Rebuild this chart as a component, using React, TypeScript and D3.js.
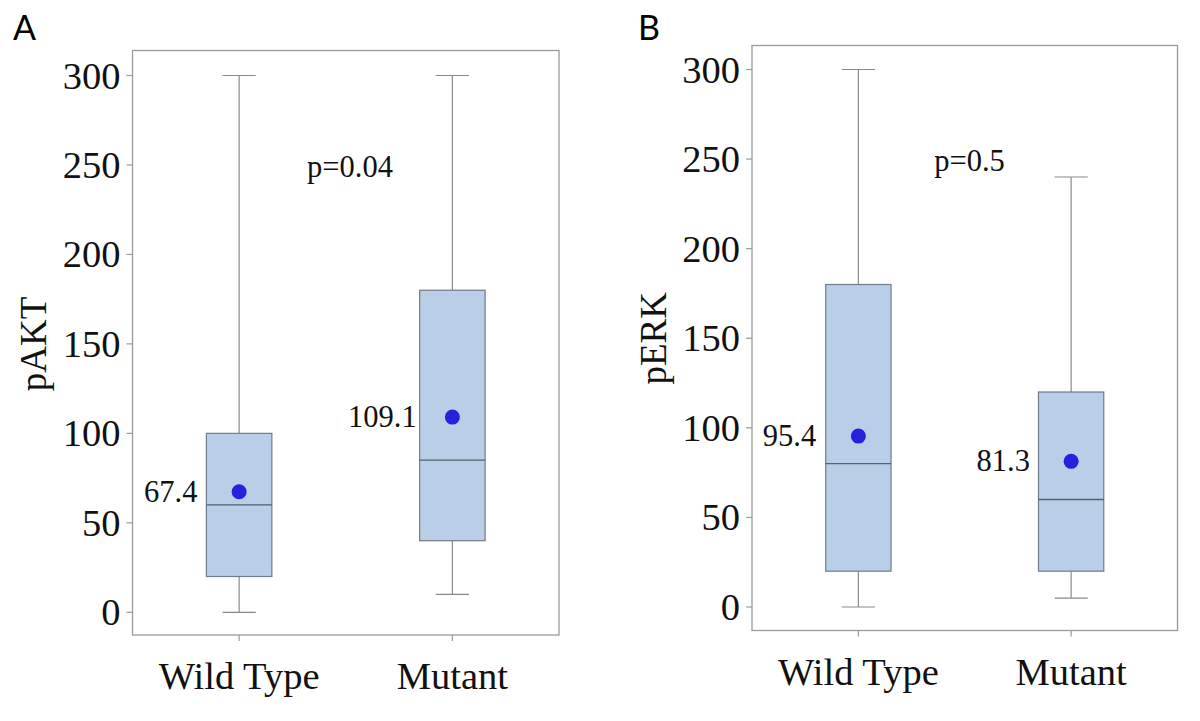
import React from "react";
import * as d3 from "d3";

const categories = ["Wild Type", "Mutant"];
const yTicks = [0, 50, 100, 150, 200, 250, 300];

// Panel A: pAKT
const pAKTMin = [0, 10];
const pAKTQ1 = [20, 40];
const pAKTMedian = [60, 85];
const pAKTQ3 = [100, 180];
const pAKTMax = [300, 300];
const pAKTMean = [67.4, 109.1];
const pAKTPValue = "p=0.04";

// Panel B: pERK
const pERKMin = [0, 5];
const pERKQ1 = [20, 20];
const pERKMedian = [80, 60];
const pERKQ3 = [180, 120];
const pERKMax = [300, 240];
const pERKMean = [95.4, 81.3];
const pERKPValue = "p=0.5";

const SERIF = "'Liberation Serif', 'Times New Roman', serif";
const SANS = "Lato, 'Open Sans', sans-serif";

type PanelProps = {
  letter: string;
  letterX: number;
  yLabel: string;
  yLabelX: number;
  frame: { x0: number; x1: number; y0: number; y1: number };
  yRange: [number, number];
  mins: number[];
  q1s: number[];
  medians: number[];
  q3s: number[];
  maxs: number[];
  means: number[];
  pValue: string;
  pValueX: number;
  pValueY: number;
  meanLabelGap: number[];
};

function Panel(p: PanelProps) {
  const { frame } = p;
  const x = d3.scalePoint<string>().domain(categories).range([frame.x0, frame.x1]).padding(0.5);
  const y = d3.scaleLinear().domain([0, 300]).range(p.yRange);
  const step = x.step();
  const boxW = step * 0.307;
  const capW = step * 0.156;
  const frameColor = "#9a9a9a";
  const whiskerColor = "#8a8a8a";
  const boxStroke = "#6f7b88";
  const boxFill = "#b9cfe8";
  const yLabelY = (p.yRange[0] + p.yRange[1]) / 2;

  return (
    <g>
      <text x={p.letterX} y={40} fontFamily={SANS} fontSize={34} fill="#000">
        {p.letter}
      </text>
      <rect
        x={frame.x0}
        y={frame.y0}
        width={frame.x1 - frame.x0}
        height={frame.y1 - frame.y0}
        fill="#fff"
        stroke={frameColor}
        strokeWidth={1.3}
      />
      {yTicks.map((t) => (
        <g key={t}>
          <line x1={frame.x0 - 6} x2={frame.x0} y1={y(t)} y2={y(t)} stroke={frameColor} strokeWidth={1.2} />
          <text
            x={frame.x0 - 12}
            y={y(t) + 13}
            textAnchor="end"
            fontFamily={SERIF}
            fontSize={38.5}
            fill="#111"
          >
            {t}
          </text>
        </g>
      ))}
      {categories.map((c) => (
        <g key={c}>
          <line
            x1={x(c)!}
            x2={x(c)!}
            y1={frame.y1}
            y2={frame.y1 + 6}
            stroke={frameColor}
            strokeWidth={1.2}
          />
          <text
            x={x(c)!}
            y={frame.y1 + 54}
            textAnchor="middle"
            fontFamily={SERIF}
            fontSize={38.5}
            fill="#111"
          >
            {c}
          </text>
        </g>
      ))}
      <text
        transform={`translate(${p.yLabelX},${yLabelY}) rotate(-90)`}
        textAnchor="middle"
        fontFamily={SERIF}
        fontSize={37}
        fill="#111"
      >
        {p.yLabel}
      </text>
      {categories.map((c, i) => {
        const cx = x(c)!;
        return (
          <g key={"b" + c}>
            <line x1={cx} x2={cx} y1={y(p.q3s[i])} y2={y(p.maxs[i])} stroke={whiskerColor} strokeWidth={1.2} />
            <line x1={cx} x2={cx} y1={y(p.q1s[i])} y2={y(p.mins[i])} stroke={whiskerColor} strokeWidth={1.2} />
            <line
              x1={cx - capW / 2}
              x2={cx + capW / 2}
              y1={y(p.maxs[i])}
              y2={y(p.maxs[i])}
              stroke={whiskerColor}
              strokeWidth={1.2}
            />
            <line
              x1={cx - capW / 2}
              x2={cx + capW / 2}
              y1={y(p.mins[i])}
              y2={y(p.mins[i])}
              stroke={whiskerColor}
              strokeWidth={1.2}
            />
            <rect
              x={cx - boxW / 2}
              y={y(p.q3s[i])}
              width={boxW}
              height={y(p.q1s[i]) - y(p.q3s[i])}
              fill={boxFill}
              stroke={boxStroke}
              strokeWidth={1.2}
            />
            <line
              x1={cx - boxW / 2}
              x2={cx + boxW / 2}
              y1={y(p.medians[i])}
              y2={y(p.medians[i])}
              stroke="#55606c"
              strokeWidth={1.3}
            />
            <circle cx={cx} cy={y(p.means[i])} r={7.5} fill="#2323dc" />
            <text
              x={cx - boxW / 2 - p.meanLabelGap[i]}
              y={y(p.means[i]) + 10}
              textAnchor="end"
              fontFamily={SERIF}
              fontSize={30.5}
              fill="#111"
            >
              {p.means[i].toFixed(1)}
            </text>
          </g>
        );
      })}
      <text x={p.pValueX} y={p.pValueY} textAnchor="middle" fontFamily={SERIF} fontSize={30.5} fill="#111">
        {p.pValue}
      </text>
    </g>
  );
}

export default function App() {
  return (
    <svg
      width={1200}
      height={721}
      viewBox="0 0 1200 721"
      style={{ position: "absolute", left: 0, top: 0, background: "#fff" }}
    >
      <rect x={0} y={0} width={1200} height={721} fill="#fff" />
      <Panel
        letter="A"
        letterX={13}
        yLabel="pAKT"
        yLabelX={46}
        frame={{ x0: 132.5, x1: 559, y0: 50.5, y1: 635 }}
        yRange={[612.3, 75.5]}
        mins={pAKTMin}
        q1s={pAKTQ1}
        medians={pAKTMedian}
        q3s={pAKTQ3}
        maxs={pAKTMax}
        means={pAKTMean}
        pValue={pAKTPValue}
        pValueX={350}
        pValueY={177}
        meanLabelGap={[9, 3]}
      />
      <Panel
        letter="B"
        letterX={638}
        yLabel="pERK"
        yLabelX={666}
        frame={{ x0: 752, x1: 1177.5, y0: 45.5, y1: 630.5 }}
        yRange={[607, 69.5]}
        mins={pERKMin}
        q1s={pERKQ1}
        medians={pERKMedian}
        q3s={pERKQ3}
        maxs={pERKMax}
        means={pERKMean}
        pValue={pERKPValue}
        pValueX={969.5}
        pValueY={171}
        meanLabelGap={[9.5, 8.5]}
      />
    </svg>
  );
}
